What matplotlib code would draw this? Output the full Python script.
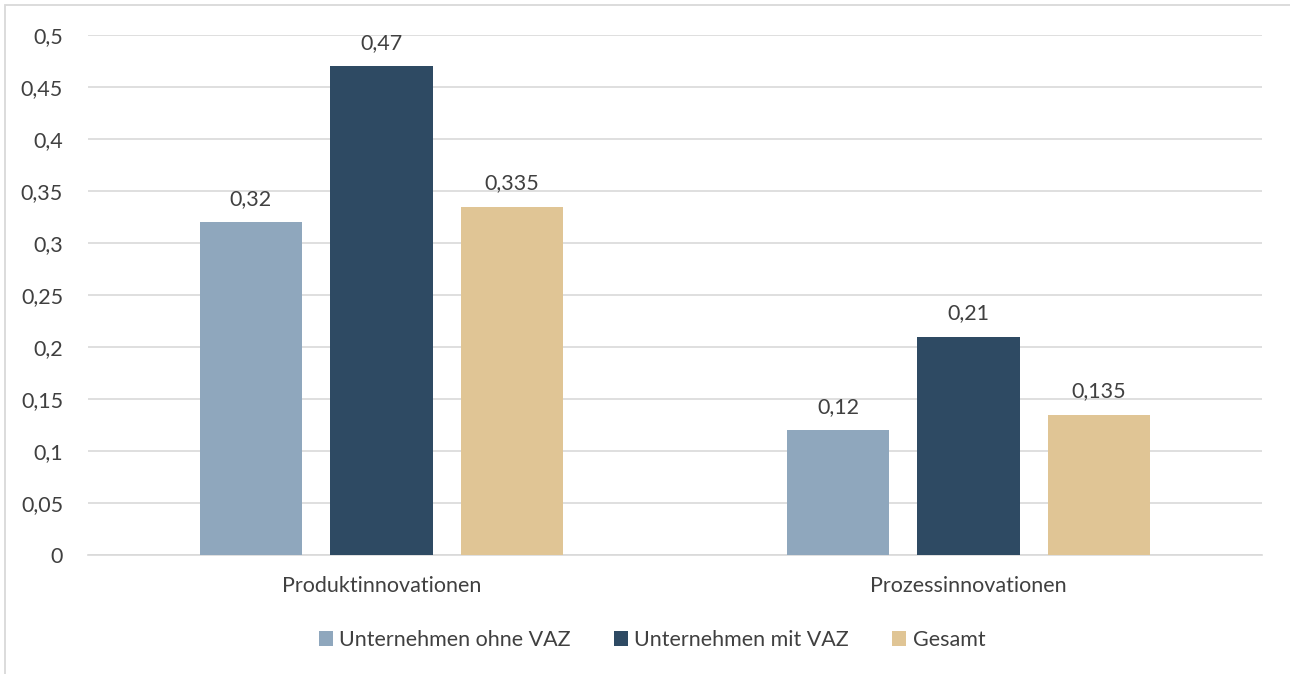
import numpy as np
import matplotlib.pyplot as plt
from matplotlib.patches import Rectangle

categories = ['Produktinnovationen', 'Prozessinnovationen']
series_names = ['Unternehmen ohne VAZ', 'Unternehmen mit VAZ', 'Gesamt']
ohne_vaz = [0.32, 0.12]
mit_vaz = [0.47, 0.21]
gesamt = [0.335, 0.135]
labels_ohne = ['0,32', '0,12']
labels_mit = ['0,47', '0,21']
labels_ges = ['0,335', '0,135']
yticks = [0, 0.05, 0.1, 0.15, 0.2, 0.25, 0.3, 0.35, 0.4, 0.45, 0.5]
ytick_labels = ['0', '0,05', '0,1', '0,15', '0,2', '0,25', '0,3', '0,35', '0,4', '0,45', '0,5']

colors = ['#8FA7BD', '#2E4A63', '#E0C595']
text_col = '#404040'
plt.rcParams['font.family'] = ['Lato', 'DejaVu Sans']

fig = plt.figure(figsize=(12.9, 6.74), dpi=100)
ax = fig.add_axes([88 / 1290, 1 - 555 / 674, 1174 / 1290, 520 / 674])

# outer chart frame (only left/top visible in the reference)
fig.patches.append(Rectangle((5 / 1290, -0.1), 1.2, 1.1 - 5 / 674,
                             transform=fig.transFigure, fill=False,
                             edgecolor='#D9D9D9', linewidth=1.3))

x = np.arange(len(categories))
w = 0.175
off = 0.2225
series = [ohne_vaz, mit_vaz, gesamt]
lbls = [labels_ohne, labels_mit, labels_ges]
for i, (vals, lab, c, name) in enumerate(zip(series, lbls, colors, series_names)):
    pos = x + (i - 1) * off
    ax.bar(pos, vals, width=w, color=c, label=name, zorder=3)
    for p, v, t in zip(pos, vals, lab):
        ax.text(p, v + 0.013, t, ha='center', va='bottom', fontsize=15.5, color=text_col)

ax.set_xlim(-0.5, 1.5)
ax.set_ylim(0, 0.5)
ax.set_yticks(yticks)
ax.set_yticklabels(ytick_labels)
ax.set_xticks(x)
ax.set_xticklabels(categories)
ax.grid(axis='y', color='#D9D9D9', linewidth=1.2, zorder=0)
for s in ['top', 'right', 'left']:
    ax.spines[s].set_visible(False)
ax.spines['bottom'].set_color('#D9D9D9')
ax.spines['bottom'].set_linewidth(1.2)
ax.tick_params(axis='both', length=0, labelsize=15.5, colors=text_col)
ax.tick_params(axis='y', pad=18)
ax.tick_params(axis='x', pad=15)

leg = fig.legend(loc='center', bbox_to_anchor=(652 / 1290, 1 - 640 / 674), ncol=3,
                 frameon=False, fontsize=15.5, handlelength=0.65, handleheight=0.65,
                 handletextpad=0.3, columnspacing=2.0)
for t in leg.get_texts():
    t.set_color(text_col)

fig.savefig('out.png', dpi=100)
